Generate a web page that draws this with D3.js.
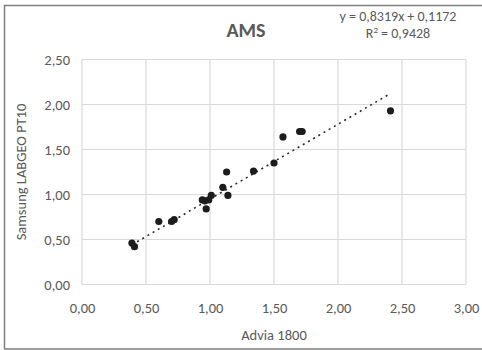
<!DOCTYPE html>
<html>
<head>
<meta charset="utf-8">
<script src="https://cdn.jsdelivr.net/npm/d3@7"></script>
<style>
  body { margin: 0; background: #fff; }
  text { font-family: Carlito, Lato, "Open Sans", sans-serif; fill: #595959; }
</style>
</head>
<body>
<div id="chart"></div>
<script>
// Advia 1800 vs Samsung LABGEO PT10 (AMS)
const advia = [0.39, 0.41, 0.60, 0.70, 0.72, 0.94, 0.96, 0.99, 1.01, 0.97, 1.10, 1.14, 1.13, 1.34, 1.50, 1.57, 1.70, 1.72, 2.41];
const labgeo = [0.46, 0.42, 0.70, 0.70, 0.72, 0.94, 0.93, 0.94, 0.99, 0.84, 1.08, 0.99, 1.25, 1.26, 1.35, 1.64, 1.70, 1.70, 1.93];
const xTicks = [0, 0.5, 1, 1.5, 2, 2.5, 3];
const yTicks = [0, 0.5, 1, 1.5, 2, 2.5];
const slope = 0.8319, intercept = 0.1172, r2 = 0.9428;

const W = 482, H = 350;
const margin = { top: 59.5, right: 16, bottom: 65.5, left: 82 };
const width = W - margin.left - margin.right;
const height = H - margin.top - margin.bottom;

const fmt = d => d3.format(".2f")(d).replace(".", ",");

const svg = d3.select("#chart").append("svg")
  .attr("width", W)
  .attr("height", H);

// outer frame
svg.append("rect")
  .attr("x", 4.5).attr("y", 5.5)
  .attr("width", W + 10).attr("height", H - 6.5)
  .attr("fill", "none")
  .attr("stroke", "#7f7f7f")
  .attr("stroke-width", 1.5);

const g = svg.append("g")
  .attr("transform", "translate(" + margin.left + "," + margin.top + ")");

const x = d3.scaleLinear().domain([0, 3]).range([0, width]);
const y = d3.scaleLinear().domain([0, 2.5]).range([height, 0]);

// grid
g.append("g")
  .selectAll("line")
  .data(xTicks)
  .enter().append("line")
  .attr("x1", d => x(d)).attr("x2", d => x(d))
  .attr("y1", 0).attr("y2", height)
  .attr("stroke", "#d9d9d9").attr("stroke-width", 1.2);

g.append("g")
  .selectAll("line")
  .data(yTicks)
  .enter().append("line")
  .attr("x1", 0).attr("x2", width)
  .attr("y1", d => y(d)).attr("y2", d => y(d))
  .attr("stroke", "#d9d9d9").attr("stroke-width", 1.2);

// axes (labels only)
const xAxis = g.append("g")
  .attr("transform", "translate(0," + height + ")")
  .call(d3.axisBottom(x).tickValues(xTicks).tickFormat(fmt).tickSize(0).tickPadding(18));
xAxis.select(".domain").remove();
xAxis.selectAll("text").attr("font-size", 14.5).attr("fill", "#595959");

const yAxis = g.append("g")
  .call(d3.axisLeft(y).tickValues(yTicks).tickFormat(fmt).tickSize(0).tickPadding(12));
yAxis.select(".domain").remove();
yAxis.selectAll("text").attr("font-size", 14.5).attr("fill", "#595959");

// trendline
const xMin = d3.min(advia), xMax = d3.max(advia);
g.append("line")
  .attr("x1", x(xMin)).attr("y1", y(slope * xMin + intercept))
  .attr("x2", x(xMax)).attr("y2", y(slope * xMax + intercept))
  .attr("stroke", "#262626")
  .attr("stroke-width", 1.6)
  .attr("stroke-dasharray", "2,4");

// points
g.append("g")
  .selectAll("circle")
  .data(advia.map((d, i) => [d, labgeo[i]]))
  .enter().append("circle")
  .attr("cx", d => x(d[0]))
  .attr("cy", d => y(d[1]))
  .attr("r", 3.6)
  .attr("fill", "#1c1c1c");

// titles
svg.append("text")
  .attr("x", 246).attr("y", 37)
  .attr("text-anchor", "middle")
  .attr("font-size", 20).attr("font-weight", "bold")
  .text("AMS");

svg.append("text")
  .attr("x", 398).attr("y", 21)
  .attr("text-anchor", "middle")
  .attr("font-size", 14)
  .text("y = " + String(slope).replace(".", ",") + "x + " + String(intercept).replace(".", ","));

const r2Text = svg.append("text")
  .attr("x", 398).attr("y", 38)
  .attr("text-anchor", "middle")
  .attr("font-size", 14);
r2Text.append("tspan").text("R");
r2Text.append("tspan").attr("dy", -5).attr("font-size", 9).text("2");
r2Text.append("tspan").attr("dy", 5).text(" = " + String(r2).replace(".", ","));

svg.append("text")
  .attr("x", margin.left + width / 2).attr("y", 340)
  .attr("text-anchor", "middle")
  .attr("font-size", 14.5)
  .text("Advia 1800");

svg.append("text")
  .attr("transform", "translate(26," + (margin.top + height / 2) + ") rotate(-90)")
  .attr("text-anchor", "middle")
  .attr("font-size", 14.5)
  .text("Samsung LABGEO PT10");
</script>
</body>
</html>
